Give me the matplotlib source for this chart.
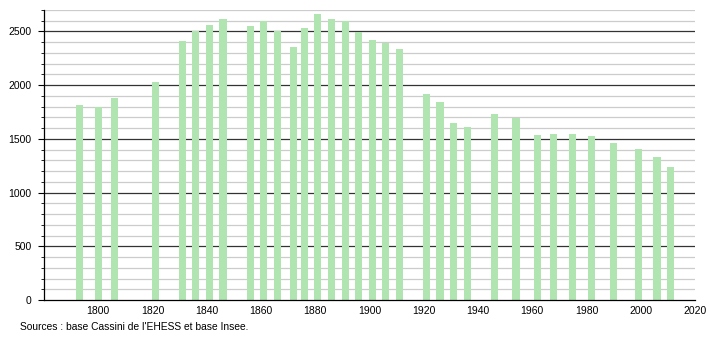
import matplotlib
matplotlib.use("Agg")
import matplotlib.pyplot as plt
from matplotlib.ticker import MultipleLocator

plt.rcParams['font.family'] = ['Liberation Sans', 'DejaVu Sans']

years = [1793, 1800, 1806, 1821, 1831, 1836, 1841, 1846, 1856, 1861, 1866,
         1872, 1876, 1881, 1886, 1891, 1896, 1901, 1906, 1911, 1921, 1926,
         1931, 1936, 1946, 1954, 1962, 1968, 1975, 1982, 1990, 1999, 2006, 2011]
population = [1819, 1795, 1884, 2034, 2407, 2509, 2565, 2612, 2550, 2597, 2509,
              2351, 2528, 2659, 2612, 2597, 2497, 2420, 2394, 2341, 1922, 1847,
              1651, 1614, 1735, 1695, 1539, 1549, 1549, 1530, 1465, 1409, 1334, 1241]
x_ticks = [1800, 1820, 1840, 1860, 1880, 1900, 1920, 1940, 1960, 1980, 2000, 2020]
y_ticks = [0, 500, 1000, 1500, 2000, 2500]
source = "Sources : base Cassini de l'EHESS et base Insee."

fig = plt.figure(figsize=(7.1, 3.4), dpi=100)
ax = fig.add_axes([44/710, 1-300/340, (695-44)/710, 290/340])

ax.set_xlim(1780, 2020)
ax.set_ylim(0, 2700)

for v in range(100, 2701, 100):
    if v % 500 == 0:
        ax.axhline(v, color="#333333", lw=0.9, zorder=1)
    else:
        ax.axhline(v, color="#cccccc", lw=0.9, zorder=1)

ax.bar(years, population, width=2.6, color="#b0e4b0", zorder=2)

ax.set_xticks(x_ticks)
ax.set_xticklabels([str(t) for t in x_ticks], fontsize=7.5)
ax.set_yticks(y_ticks)
ax.set_yticklabels([str(t) for t in y_ticks], fontsize=7.5)
ax.yaxis.set_minor_locator(MultipleLocator(100))
ax.tick_params(axis="x", length=0, pad=4)
ax.tick_params(axis="y", which="major", length=4, width=0.8, pad=5)
ax.tick_params(axis="y", which="minor", length=2, width=0.6)

for s in ["top", "right"]:
    ax.spines[s].set_visible(False)
ax.spines["left"].set_linewidth(0.9)
ax.spines["bottom"].set_linewidth(0.9)

fig.text(20/710, 1-327/340, source, fontsize=7.4, va="center", ha="left")

fig.savefig("out.png", dpi=100)
